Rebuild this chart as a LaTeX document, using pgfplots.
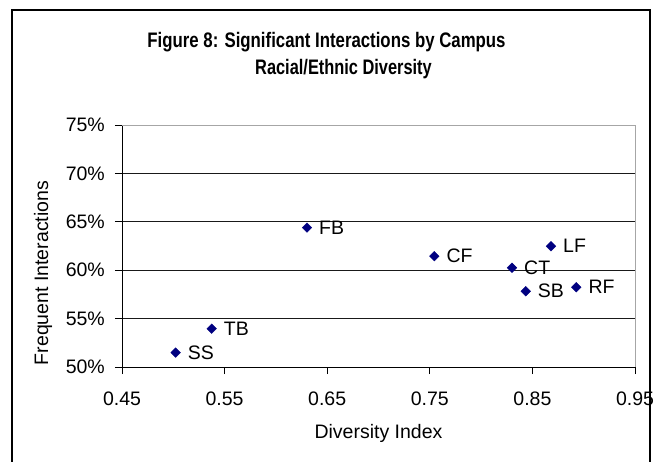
\documentclass[border=0pt]{standalone}
\usepackage{fontspec}
\setmainfont{Liberation Sans}
\usepackage{graphicx}
\usepackage{pgfplots}
\pgfplotsset{compat=1.18}
\definecolor{navy}{HTML}{000080}
\begin{document}
\begin{tikzpicture}[x=1pt,y=1pt]
\useasboundingbox (-122,-94) rectangle (533,367);
\draw[black, line width=1.2pt] (-110,-110) rectangle (528,357);
\node[anchor=base, inner sep=0pt] at (204.5,319) {\scalebox{0.8}[1]{\fontsize{21}{25}\selectfont\bfseries Figure 8: Significant Interactions by Campus}};
\node[anchor=base, inner sep=0pt] at (221.5,292) {\scalebox{0.78}[1]{\fontsize{21}{25}\selectfont\bfseries Racial/Ethnic Diversity}};
\begin{axis}[
  at={(0,0)}, anchor=south west,
  scale only axis, width=513pt, height=242pt,
  xmin=0.45, xmax=0.95, ymin=50, ymax=75,
  axis lines*=left,
  axis line style={black, line width=0.8pt, -},
  tick align=outside,
  major tick length=7pt,
  tick style={black, line width=0.8pt},
  xtick={0.45,0.55,0.65,0.75,0.85,0.95},
  xticklabels={0.45,0.55,0.65,0.75,0.85,0.95},
  ytick={50,55,60,65,70,75},
  yticklabels={50\%,55\%,60\%,65\%,70\%,75\%},
  ymajorgrids, grid style={black!90, line width=0.9pt},
  ticklabel style={font=\fontsize{19.5}{23}\selectfont},
  xticklabel style={inner sep=0pt, anchor=north, yshift=-18pt},
  yticklabel style={inner sep=0pt, anchor=east, xshift=-10pt},
  xlabel={Diversity Index},
  ylabel={Frequent Interactions},
  label style={font=\fontsize{19.5}{23}\selectfont},
  xlabel style={at={(axis description cs:0.5,-0.273)}, anchor=center, inner sep=0pt},
  ylabel style={at={(axis description cs:-0.154,0.388)}, anchor=center, inner sep=0pt, rotate=0},
  clip=false,
]
\addplot[only marks, mark=square*, mark size=3.4pt, mark options={rotate=45, fill=navy, draw=navy},
  point meta=explicit symbolic,
  nodes near coords,
  nodes near coords style={anchor=west, inner sep=0pt, xshift=12pt, font=\fontsize{19.5}{23}\selectfont, text=black},
] table[meta=label] {
x y label
0.5023 51.49 SS
0.5374 53.96 TB
0.6303 64.40 FB
0.7544 61.45 CF
0.8301 60.25 CT
0.8681 62.48 LF
0.8435 57.83 SB
0.8928 58.24 RF
};
\draw[gray!70, line width=1pt] (rel axis cs:0,1) -- (rel axis cs:1,1) -- (rel axis cs:1,0);
\end{axis}
\end{tikzpicture}
\end{document}
